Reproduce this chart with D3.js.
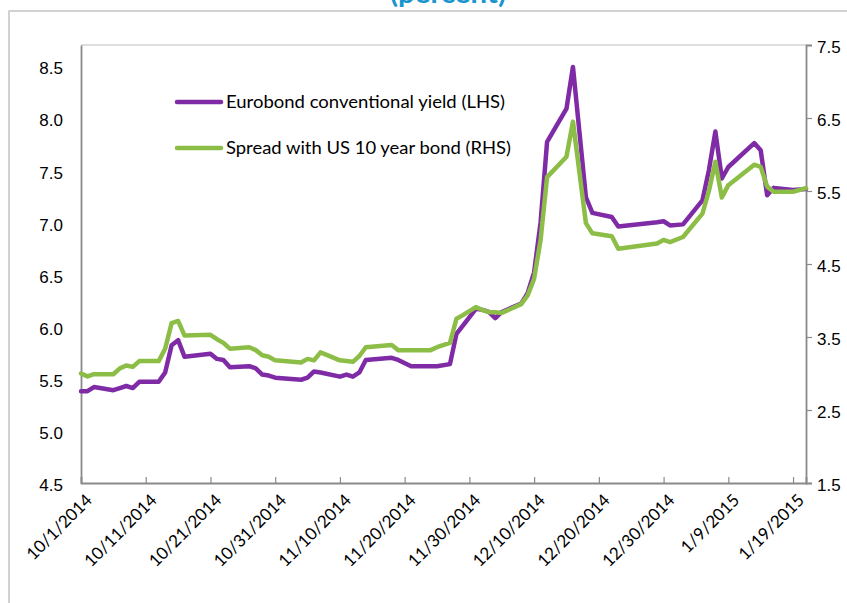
<!DOCTYPE html>
<html>
<head>
<meta charset="utf-8">
<script src="https://cdn.jsdelivr.net/npm/d3@7"></script>
<style>
  html, body { margin: 0; padding: 0; background: #fff; }
  svg { display: block; font-family: "Lato", "DejaVu Sans", sans-serif; }
</style>
</head>
<body>
<svg id="chart" width="847" height="603"></svg>
<script>
// ---- Data ----
const dates = [
  "2014-10-01","2014-10-02","2014-10-03",
  "2014-10-06","2014-10-07","2014-10-08","2014-10-09","2014-10-10",
  "2014-10-13","2014-10-14","2014-10-15","2014-10-16","2014-10-17",
  "2014-10-21","2014-10-22","2014-10-23","2014-10-24",
  "2014-10-27","2014-10-28","2014-10-29","2014-10-30","2014-10-31",
  "2014-11-04","2014-11-05","2014-11-06","2014-11-07",
  "2014-11-10","2014-11-11","2014-11-12","2014-11-13","2014-11-14",
  "2014-11-18","2014-11-19","2014-11-21",
  "2014-11-24","2014-11-25","2014-11-27","2014-11-28","2014-11-29",
  "2014-12-01","2014-12-02","2014-12-03","2014-12-04","2014-12-05",
  "2014-12-08","2014-12-09","2014-12-10","2014-12-11","2014-12-12",
  "2014-12-15","2014-12-16","2014-12-18","2014-12-19",
  "2014-12-22","2014-12-23",
  "2014-12-29","2014-12-30","2014-12-31","2015-01-02",
  "2015-01-05","2015-01-06","2015-01-07","2015-01-08","2015-01-09",
  "2015-01-13","2015-01-14","2015-01-15","2015-01-16",
  "2015-01-19","2015-01-21"
];
const eurobondYield = [
  5.38,5.38,5.42,
  5.39,5.41,5.43,5.41,5.47,
  5.47,5.56,5.82,5.87,5.71,
  5.74,5.69,5.68,5.61,
  5.62,5.60,5.54,5.53,5.51,
  5.49,5.51,5.57,5.56,
  5.52,5.54,5.52,5.56,5.68,
  5.70,5.68,5.62,
  5.62,5.62,5.64,5.93,6.01,
  6.17,6.16,6.14,6.08,6.14,
  6.22,6.32,6.52,7.00,7.77,
  8.09,8.49,7.24,7.09,
  7.05,6.96,
  7.00,7.01,6.97,6.98,
  7.21,7.50,7.87,7.42,7.53,
  7.76,7.69,7.26,7.33,
  7.31,7.32
];
const usSpread = [
  3.00,2.96,2.99,
  2.99,3.07,3.11,3.09,3.17,
  3.17,3.34,3.69,3.72,3.52,
  3.53,3.47,3.42,3.34,
  3.36,3.32,3.25,3.23,3.18,
  3.15,3.20,3.18,3.29,
  3.18,3.17,3.16,3.24,3.36,
  3.39,3.32,3.32,
  3.32,3.36,3.42,3.75,3.80,
  3.91,3.87,3.84,3.84,3.83,
  3.95,4.07,4.30,4.83,5.69,
  5.97,6.45,5.06,4.92,
  4.88,4.71,
  4.78,4.83,4.80,4.87,
  5.19,5.50,5.90,5.41,5.58,
  5.86,5.83,5.56,5.49,
  5.49,5.54
];
const xTickLabels = ["10/1/2014","10/11/2014","10/21/2014","10/31/2014","11/10/2014",
  "11/20/2014","11/30/2014","12/10/2014","12/20/2014","12/30/2014","1/9/2015","1/19/2015"];
const leftTicks = [4.5, 5.0, 5.5, 6.0, 6.5, 7.0, 7.5, 8.0, 8.5];
const rightTicks = [1.5, 2.5, 3.5, 4.5, 5.5, 6.5, 7.5];
const leftDomain = [4.5, 8.7];
const rightDomain = [1.5, 7.5];
const xDomain = ["2014-10-01", "2015-01-21"];
const seriesNames = ["Eurobond conventional yield (LHS)", "Spread with US 10 year bond (RHS)"];
const titleText = "(percent)";

// ---- Layout ----
const svg = d3.select("#chart");
const M = { left: 81, right: 806, top: 45, bottom: 483 };
const parse = d3.utcParse("%Y-%m-%d");
const parseTick = d3.utcParse("%m/%d/%Y");
const purple = "#7F2BA6";
const green = "#8CBE47";
const axisGrey = "#8a8a8a";

// Outer chart frame
svg.append("rect").attr("x", 9).attr("y", 11).attr("width", 900).attr("height", 700)
  .attr("fill", "none").attr("stroke", "#c4c4c4").attr("stroke-width", 1.5);

// Title (mostly cut off at top, as in the reference)
svg.append("text").attr("x", 448).attr("y", 2.5)
  .attr("text-anchor", "middle").attr("font-weight", "bold").attr("font-size", 26)
  .attr("fill", "#1B95CE").attr("textLength", 116).attr("lengthAdjust", "spacingAndGlyphs")
  .text(titleText);

const x = d3.scaleUtc().domain(xDomain.map(parse)).range([M.left, M.right]);
const yL = d3.scaleLinear().domain(leftDomain).range([M.bottom, M.top]);
const yR = d3.scaleLinear().domain(rightDomain).range([M.bottom, M.top]);

// plot area top border
svg.append("line").attr("x1", M.left).attr("x2", M.right).attr("y1", M.top).attr("y2", M.top)
  .attr("stroke", "#bdbdbd").attr("stroke-width", 1.2);

// Bottom axis
const gx = svg.append("g").attr("transform", `translate(0,${M.bottom})`)
  .call(d3.axisBottom(x).tickValues(xTickLabels.map(parseTick)).tickSize(-6).tickFormat(""));
gx.select(".domain").attr("stroke", axisGrey).attr("stroke-width", 1.8);
gx.selectAll(".tick line").attr("stroke", axisGrey).attr("stroke-width", 1.2);
svg.append("g").selectAll("text").data(xTickLabels).join("text")
  .attr("transform", d => `translate(${x(parseTick(d)) + 8},${M.bottom + 14}) rotate(-45)`)
  .attr("text-anchor", "end").attr("dy", "0.35em")
  .attr("font-size", 17).attr("fill", "#000")
  .text(d => d);

// Left axis
const gl = svg.append("g").attr("transform", `translate(${M.left},0)`)
  .call(d3.axisLeft(yL).tickValues(leftTicks).tickSize(0).tickPadding(18).tickFormat(d3.format(".1f")));
gl.select(".domain").attr("stroke", axisGrey).attr("stroke-width", 1.8);
gl.selectAll(".tick text").attr("font-size", 17).attr("fill", "#000").attr("font-family", null)
  .attr("dy", "0.35em").attr("y", 2);

// Right axis
const gr = svg.append("g").attr("transform", `translate(${M.right},0)`)
  .call(d3.axisRight(yR).tickValues(rightTicks).tickSize(6).tickPadding(5).tickFormat(d3.format(".1f")));
gr.select(".domain").attr("stroke", axisGrey).attr("stroke-width", 1.8);
gr.selectAll(".tick line").attr("stroke", axisGrey).attr("stroke-width", 1.2);
gr.selectAll(".tick text").attr("font-size", 17).attr("fill", "#000").attr("font-family", null)
  .attr("dy", "0.35em").attr("y", 2);

// Lines
const ptsL = dates.map((d, i) => [parse(d), eurobondYield[i]]);
const ptsR = dates.map((d, i) => [parse(d), usSpread[i]]);
const lineL = d3.line().x(d => x(d[0])).y(d => yL(d[1]));
const lineR = d3.line().x(d => x(d[0])).y(d => yR(d[1]));
svg.append("path").attr("d", lineL(ptsL)).attr("fill", "none").attr("stroke", purple)
  .attr("stroke-width", 4.5).attr("stroke-linejoin", "round").attr("stroke-linecap", "round");
svg.append("path").attr("d", lineR(ptsR)).attr("fill", "none").attr("stroke", green)
  .attr("stroke-width", 4.5).attr("stroke-linejoin", "round").attr("stroke-linecap", "round");

// Legend
const legend = svg.append("g");
const legendRows = [
  { name: seriesNames[0], color: purple, y: 102, w: 279 },
  { name: seriesNames[1], color: green, y: 148, w: 285 }
];
legendRows.forEach(r => {
  legend.append("line").attr("x1", 177).attr("x2", 221).attr("y1", r.y).attr("y2", r.y)
    .attr("stroke", r.color).attr("stroke-width", 4.5).attr("stroke-linecap", "round");
  legend.append("text").attr("x", 226).attr("y", r.y).attr("dy", "0.36em")
    .attr("font-size", 18).attr("fill", "#000")
    .attr("textLength", r.w).attr("lengthAdjust", "spacingAndGlyphs")
    .text(r.name);
});
</script>
</body>
</html>
